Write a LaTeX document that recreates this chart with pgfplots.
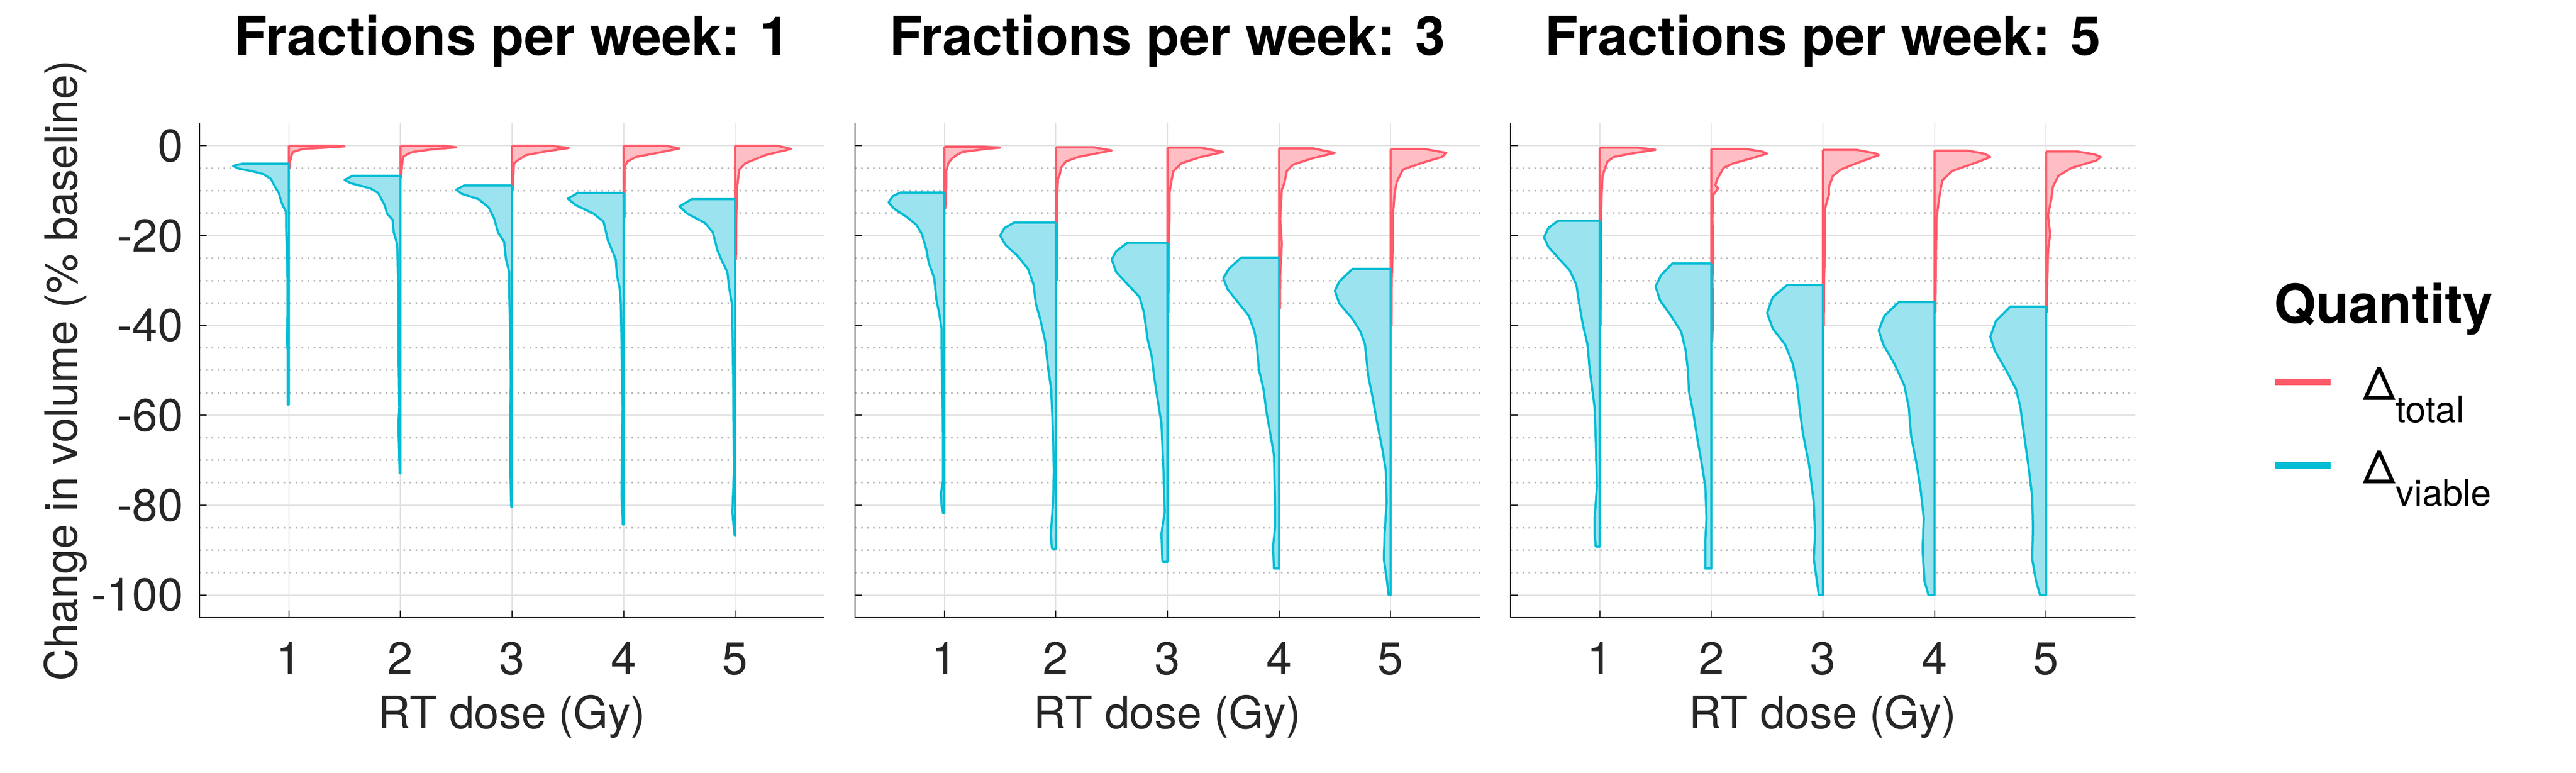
\documentclass[border=0pt]{standalone}
\usepackage{fontspec}
\setmainfont{TeX Gyre Heros}
\usepackage{pgfplots}
\pgfplotsset{compat=1.18}
\definecolor{rline}{HTML}{FF5A6A}
\definecolor{rfill}{HTML}{FFBEC4}
\definecolor{bline}{HTML}{00BCD4}
\definecolor{bfill}{HTML}{9BE3EE}
\definecolor{axgray}{HTML}{262626}
\definecolor{gridc}{HTML}{E2E2E2}
\definecolor{mgridc}{HTML}{B8B8B8}
\newcommand{\tickfont}{\fontsize{8.4}{10}\selectfont}
\newcommand{\labfont}{\fontsize{8.2}{10}\selectfont}
\newcommand{\titfont}{\bfseries\fontsize{9.9}{12}\selectfont}
\pgfplotsset{
  panel/.style={
    scale only axis, width=114.6pt, height=90.6pt,
    xmin=0.2, xmax=5.8, ymin=-105, ymax=5, enlargelimits=false,
    axis lines=left, axis line style={-, draw=axgray, line width=0.2pt},
    xtick={1,2,3,4,5}, xticklabels={1,2,3,4,5},
    ytick={-100,-80,-60,-40,-20,0},
    minor y tick num=3,
    xmajorgrids=true, ymajorgrids=true, yminorgrids=true,
    major grid style={draw=gridc, line width=0.2pt},
    minor grid style={draw=mgridc, line width=0.3pt, dash pattern=on 0.3pt off 0.8pt},
    tick align=inside, major tick length=1.3pt, minor tick length=0pt,
    tick style={draw=axgray, line width=0.2pt},
    xticklabel style={font=\tickfont, text=axgray, anchor=base, inner sep=0pt, yshift=-10.5pt},
    yticklabel style={font=\tickfont, text=axgray, anchor=east, inner sep=0pt, xshift=-2.8pt},
    title style={at={(axis description cs:0.5,1.0717)}, anchor=base, font=\titfont, inner sep=0pt},
    xlabel={RT dose (Gy)},
    xlabel style={at={(axis description cs:0.5,-0.2241)}, anchor=base, inner sep=0pt, font=\labfont, text=axgray},
    clip=false,
  },
  bv/.style={draw=bline, fill=bfill, line width=0.4pt, line join=round, forget plot},
  rv/.style={draw=rline, fill=rfill, line width=0.4pt, line join=round, forget plot},
}
\begin{document}
\begin{tikzpicture}
\useasboundingbox (0,0) rectangle (472.4pt,141.7pt);
% ---------------- Panel 1 ----------------
\begin{axis}[panel, at={(36.6pt,28.5pt)}, anchor=south west,
  title={Fractions per week: 1},
  yticklabels={-100,-80,-60,-40,-20,0},
  ylabel={Change in volume (\% baseline)},
  ylabel style={at={(axis description cs:-0.1963,0.5)}, anchor=base, inner sep=0pt, font=\labfont, text=axgray}]
\addplot[rv] table[x expr={1+\thisrow{w}}, y=y, row sep=\\] {y w\\ 0 0\\ 0 0.41\\ -0.14 0.50\\ -0.5 0.27\\ -0.7 0.125\\ -1.4 0.036\\ -2.1 0.025\\ -3.5 0.011\\ -4.6 0.01\\ -5 0.005\\ -5 0\\ 0 0\\};
\addplot[bv] table[x expr={1-\thisrow{w}}, y=y, row sep=\\] {y w\\ -4.0 0\\ -4.0 0.42\\ -4.5 0.50\\ -5.1 0.45\\ -5.6 0.34\\ -6.3 0.23\\ -7.4 0.16\\ -9.1 0.125\\ -10.5 0.09\\ -12.3 0.07\\ -13.3 0.054\\ -14.7 0.025\\ -17.6 0.025\\ -23.2 0.018\\ -30.2 0.011\\ -37.2 0.011\\ -43.5 0.018\\ -45.6 0.01\\ -51.3 0.01\\ -57.6 0.01\\ -57.6 0\\ -4.0 0\\};
\addplot[rv] table[x expr={2+\thisrow{w}}, y=y, row sep=\\] {y w\\ 0 0\\ 0 0.39\\ -0.35 0.50\\ -0.84 0.27\\ -1.4 0.11\\ -1.76 0.07\\ -2.5 0.025\\ -3.5 0.018\\ -5.6 0.01\\ -7 0.008\\ -7 0\\ 0 0\\};
\addplot[bv] table[x expr={2-\thisrow{w}}, y=y, row sep=\\] {y w\\ -6.7 0\\ -6.7 0.43\\ -7.6 0.50\\ -8.3 0.45\\ -9.5 0.27\\ -10.5 0.2\\ -13.3 0.14\\ -15.1 0.12\\ -16.5 0.07\\ -19.3 0.06\\ -21.8 0.03\\ -25.3 0.025\\ -33.7 0.018\\ -44.2 0.018\\ -58.3 0.01\\ -61.8 0.018\\ -72.9 0.007\\ -72.9 0\\ -6.7 0\\};
\addplot[rv] table[x expr={3+\thisrow{w}}, y=y, row sep=\\] {y w\\ 0 0\\ 0 0.34\\ -0.5 0.51\\ -1.26 0.30\\ -2.1 0.125\\ -3.2 0.054\\ -3.9 0.018\\ -7.0 0.01\\ -10 0.008\\ -10 0\\ 0 0\\};
\addplot[bv] table[x expr={3-\thisrow{w}}, y=y, row sep=\\] {y w\\ -8.85 0\\ -8.85 0.43\\ -9.8 0.50\\ -10.7 0.45\\ -11.9 0.30\\ -13.7 0.21\\ -16.2 0.16\\ -19.3 0.125\\ -21.4 0.07\\ -25.3 0.054\\ -28.1 0.025\\ -31.6 0.025\\ -40.7 0.018\\ -51.3 0.011\\ -69.5 0.018\\ -80.4 0.007\\ -80.4 0\\ -8.85 0\\};
\addplot[rv] table[x expr={4+\thisrow{w}}, y=y, row sep=\\] {y w\\ 0 0\\ 0 0.375\\ -0.6 0.50\\ -1.76 0.27\\ -2.5 0.11\\ -3.5 0.036\\ -4.6 0.01\\ -16 0.008\\ -16 0\\ 0 0\\};
\addplot[bv] table[x expr={4-\thisrow{w}}, y=y, row sep=\\] {y w\\ -10.5 0\\ -10.5 0.41\\ -11.8 0.50\\ -13.2 0.43\\ -15.1 0.27\\ -16.9 0.18\\ -21.1 0.14\\ -25.3 0.07\\ -28.8 0.06\\ -31.6 0.036\\ -35.1 0.025\\ -44.2 0.018\\ -58.3 0.01\\ -77.9 0.018\\ -84.3 0.007\\ -84.3 0\\ -10.5 0\\};
\addplot[rv] table[x expr={5+\thisrow{w}}, y=y, row sep=\\] {y w\\ 0 0\\ 0 0.375\\ -0.7 0.50\\ -2.1 0.27\\ -3.9 0.09\\ -5.3 0.036\\ -9.1 0.018\\ -16.2 0.01\\ -25.3 0.007\\ -25.3 0\\ 0 0\\};
\addplot[bv] table[x expr={5-\thisrow{w}}, y=y, row sep=\\] {y w\\ -11.9 0\\ -11.9 0.39\\ -13.5 0.50\\ -15.1 0.43\\ -17.2 0.27\\ -19.3 0.2\\ -23.2 0.16\\ -25.3 0.125\\ -28.1 0.07\\ -31.6 0.054\\ -35.8 0.025\\ -40.0 0.025\\ -51.3 0.018\\ -72.3 0.011\\ -81.5 0.025\\ -83.6 0.018\\ -86.7 0.005\\ -86.7 0\\ -11.9 0\\};
\end{axis}
% ---------------- Panel 2 ----------------
\begin{axis}[panel, at={(156.8pt,28.5pt)}, anchor=south west,
  title={Fractions per week: 3}, yticklabels={}]
\addplot[rv] table[x expr={1+\thisrow{w}}, y=y, row sep=\\] {y w\\ -0.2 0\\ -0.2 0.34\\ -0.42 0.50\\ -0.7 0.375\\ -1.4 0.16\\ -2.1 0.11\\ -2.8 0.07\\ -3.9 0.036\\ -5.6 0.018\\ -9.1 0.018\\ -13.3 0.01\\ -14 0.008\\ -14 0\\ -0.2 0\\};
\addplot[bv] table[x expr={1-\thisrow{w}}, y=y, row sep=\\] {y w\\ -10.4 0\\ -10.4 0.39\\ -11.2 0.46\\ -12.6 0.50\\ -14.0 0.45\\ -15.8 0.34\\ -17.6 0.25\\ -19.7 0.2\\ -23.2 0.16\\ -26.0 0.14\\ -29.5 0.09\\ -34.4 0.07\\ -37.2 0.046\\ -40.7 0.025\\ -44.2 0.025\\ -54.8 0.018\\ -65.3 0.011\\ -74.4 0.011\\ -77.2 0.029\\ -80.1 0.025\\ -81.8 0.01\\ -81.8 0\\ -10.4 0\\};
\addplot[rv] table[x expr={2+\thisrow{w}}, y=y, row sep=\\] {y w\\ -0.35 0\\ -0.35 0.34\\ -1.05 0.50\\ -2.5 0.2\\ -3.5 0.09\\ -4.9 0.046\\ -6.3 0.036\\ -7.4 0.018\\ -12.6 0.01\\ -21.8 0.01\\ -30 0.008\\ -30 0\\ -0.35 0\\};
\addplot[bv] table[x expr={2-\thisrow{w}}, y=y, row sep=\\] {y w\\ -17.1 0\\ -17.1 0.375\\ -18.3 0.46\\ -20.0 0.50\\ -22.1 0.45\\ -24.6 0.34\\ -27.4 0.25\\ -30.9 0.2\\ -35.1 0.18\\ -38.6 0.14\\ -43.5 0.096\\ -49.2 0.071\\ -54.1 0.043\\ -61.8 0.029\\ -72.3 0.018\\ -79.4 0.025\\ -86.4 0.046\\ -89.5 0.036\\ -89.7 0.03\\ -89.7 0\\ -17.1 0\\};
\addplot[rv] table[x expr={3+\thisrow{w}}, y=y, row sep=\\] {y w\\ -0.42 0\\ -0.42 0.30\\ -1.4 0.50\\ -2.5 0.30\\ -3.9 0.125\\ -5.6 0.054\\ -7.7 0.036\\ -10.5 0.018\\ -16.2 0.018\\ -23.2 0.01\\ -37.2 0.008\\ -37.2 0\\ -0.42 0\\};
\addplot[bv] table[x expr={3-\thisrow{w}}, y=y, row sep=\\] {y w\\ -21.6 0\\ -21.6 0.36\\ -23.5 0.46\\ -25.3 0.50\\ -28.1 0.46\\ -31.3 0.34\\ -33.7 0.25\\ -37.2 0.21\\ -42.8 0.18\\ -47.1 0.14\\ -51.3 0.12\\ -56.2 0.09\\ -61.8 0.054\\ -72.3 0.036\\ -81.5 0.025\\ -86.4 0.054\\ -92.3 0.046\\ -92.6 0.04\\ -92.6 0\\ -21.6 0\\};
\addplot[rv] table[x expr={4+\thisrow{w}}, y=y, row sep=\\] {y w\\ -0.56 0\\ -0.56 0.30\\ -1.6 0.50\\ -2.8 0.30\\ -4.2 0.125\\ -5.6 0.07\\ -8.4 0.046\\ -9.8 0.025\\ -16.2 0.01\\ -21.8 0.025\\ -28.8 0.01\\ -36.2 0.008\\ -36.2 0\\ -0.56 0\\};
\addplot[bv] table[x expr={4-\thisrow{w}}, y=y, row sep=\\] {y w\\ -24.9 0\\ -24.9 0.34\\ -27.4 0.45\\ -29.5 0.50\\ -32.0 0.46\\ -35.1 0.36\\ -37.9 0.27\\ -41.4 0.22\\ -44.2 0.2\\ -49.9 0.18\\ -54.1 0.14\\ -59.7 0.11\\ -65.3 0.07\\ -68.8 0.046\\ -79.4 0.036\\ -85.0 0.036\\ -89.2 0.054\\ -94.1 0.046\\ -94.1 0\\ -24.9 0\\};
\addplot[rv] table[x expr={5+\thisrow{w}}, y=y, row sep=\\] {y w\\ -0.7 0\\ -0.7 0.30\\ -1.6 0.50\\ -2.5 0.46\\ -3.9 0.27\\ -5.3 0.11\\ -8.1 0.054\\ -10.5 0.036\\ -16.2 0.018\\ -23.2 0.018\\ -30.2 0.01\\ -40 0.008\\ -40 0\\ -0.7 0\\};
\addplot[bv] table[x expr={5-\thisrow{w}}, y=y, row sep=\\] {y w\\ -27.4 0\\ -27.4 0.34\\ -30.2 0.46\\ -32.3 0.50\\ -35.1 0.46\\ -38.6 0.34\\ -41.4 0.27\\ -44.2 0.23\\ -51.3 0.2\\ -56.2 0.16\\ -61.8 0.12\\ -68.1 0.07\\ -72.3 0.043\\ -79.4 0.036\\ -86.4 0.054\\ -92.0 0.061\\ -96.2 0.036\\ -100 0.018\\ -100 0\\ -27.4 0\\};
\end{axis}
% ---------------- Panel 3 ----------------
\begin{axis}[panel, at={(277.0pt,28.5pt)}, anchor=south west,
  title={Fractions per week: 5}, yticklabels={},
  legend style={draw=none, fill=none, at={(axis description cs:1.2164,0.508)}, anchor=north west,
    inner sep=0pt, row sep=7.8pt, font=\tickfont, nodes={inner sep=0pt},
    /tikz/every odd column/.append style={column sep=5.4pt}},
  legend cell align=left,
  legend image code/.code={\draw[line width=1.2pt] (0pt,1.1pt) -- (10.2pt,1.1pt);}]
\addlegendimage{draw=rline}
\addlegendentry{Δ\raisebox{-4.1pt}{\fontsize{6.7}{8}\selectfont total}}
\addlegendimage{draw=bline}
\addlegendentry{Δ\raisebox{-4.1pt}{\fontsize{6.7}{8}\selectfont viable}}
\addplot[rv] table[x expr={1+\thisrow{w}}, y=y, row sep=\\] {y w\\ -0.42 0\\ -0.42 0.34\\ -0.9 0.50\\ -1.8 0.27\\ -2.5 0.125\\ -3.5 0.07\\ -5.3 0.043\\ -6.7 0.025\\ -10.5 0.018\\ -16.2 0.01\\ -30.2 0.01\\ -40 0.008\\ -40 0\\ -0.42 0\\};
\addplot[bv] table[x expr={1-\thisrow{w}}, y=y, row sep=\\] {y w\\ -16.7 0\\ -16.7 0.375\\ -18.3 0.46\\ -20.4 0.50\\ -22.5 0.46\\ -25.3 0.36\\ -27.7 0.27\\ -30.9 0.21\\ -35.8 0.18\\ -40.0 0.15\\ -44.2 0.11\\ -49.9 0.09\\ -53.4 0.071\\ -58.3 0.046\\ -65.3 0.036\\ -75.8 0.025\\ -82.9 0.046\\ -86.4 0.046\\ -89.2 0.036\\ -89.2 0\\ -16.7 0\\};
\addplot[rv] table[x expr={2+\thisrow{w}}, y=y, row sep=\\] {y w\\ -0.7 0\\ -0.7 0.30\\ -1.26 0.45\\ -1.76 0.50\\ -2.95 0.34\\ -3.9 0.2\\ -4.9 0.11\\ -7.4 0.054\\ -8.8 0.036\\ -9.5 0.061\\ -10.9 0.018\\ -16.2 0.01\\ -23.2 0.018\\ -30.2 0.01\\ -37.2 0.018\\ -43.5 0.008\\ -43.5 0\\ -0.7 0\\};
\addplot[bv] table[x expr={2-\thisrow{w}}, y=y, row sep=\\] {y w\\ -26.2 0\\ -26.2 0.35\\ -28.8 0.45\\ -31.3 0.50\\ -34.4 0.46\\ -37.9 0.36\\ -41.4 0.27\\ -45.6 0.23\\ -49.9 0.21\\ -54.8 0.2\\ -59.7 0.16\\ -65.3 0.125\\ -70.2 0.09\\ -75.8 0.054\\ -82.9 0.043\\ -87.8 0.054\\ -94.1 0.054\\ -94.1 0\\ -26.2 0\\};
\addplot[rv] table[x expr={3+\thisrow{w}}, y=y, row sep=\\] {y w\\ -0.9 0\\ -0.9 0.30\\ -1.76 0.48\\ -2.1 0.50\\ -3.9 0.30\\ -5.3 0.16\\ -6.7 0.09\\ -9.1 0.054\\ -10.9 0.054\\ -14.0 0.018\\ -23.2 0.018\\ -30.2 0.01\\ -40 0.008\\ -40 0\\ -0.9 0\\};
\addplot[bv] table[x expr={3-\thisrow{w}}, y=y, row sep=\\] {y w\\ -31.0 0\\ -31.0 0.32\\ -33.7 0.45\\ -37.2 0.50\\ -40.7 0.45\\ -44.2 0.34\\ -48.5 0.27\\ -53.4 0.23\\ -58.3 0.21\\ -63.9 0.18\\ -70.9 0.125\\ -79.4 0.082\\ -86.4 0.071\\ -92.0 0.082\\ -100 0.036\\ -100 0\\ -31.0 0\\};
\addplot[rv] table[x expr={4+\thisrow{w}}, y=y, row sep=\\] {y w\\ -1.1 0\\ -1.1 0.30\\ -1.8 0.45\\ -2.5 0.50\\ -3.4 0.41\\ -5.6 0.16\\ -7.7 0.07\\ -9.8 0.054\\ -12.6 0.036\\ -16.2 0.018\\ -30.2 0.01\\ -37 0.008\\ -37 0\\ -1.1 0\\};
\addplot[bv] table[x expr={4-\thisrow{w}}, y=y, row sep=\\] {y w\\ -34.8 0\\ -34.8 0.32\\ -37.9 0.45\\ -41.1 0.50\\ -44.2 0.46\\ -48.5 0.36\\ -53.4 0.27\\ -58.3 0.23\\ -64.6 0.21\\ -70.9 0.16\\ -76.5 0.125\\ -82.9 0.096\\ -89.9 0.107\\ -96.9 0.09\\ -100 0.054\\ -100 0\\ -34.8 0\\};
\addplot[rv] table[x expr={5+\thisrow{w}}, y=y, row sep=\\] {y w\\ -1.26 0\\ -1.26 0.27\\ -1.9 0.43\\ -2.5 0.49\\ -3.3 0.45\\ -4.9 0.23\\ -6.7 0.11\\ -9.1 0.061\\ -11.9 0.046\\ -15.4 0.018\\ -19.7 0.036\\ -23.2 0.018\\ -30.2 0.01\\ -37 0.008\\ -37 0\\ -1.26 0\\};
\addplot[bv] table[x expr={5-\thisrow{w}}, y=y, row sep=\\] {y w\\ -35.8 0\\ -35.8 0.32\\ -39.0 0.45\\ -42.5 0.50\\ -45.6 0.46\\ -49.9 0.36\\ -54.1 0.27\\ -58.3 0.23\\ -63.9 0.2\\ -70.9 0.16\\ -78.0 0.125\\ -85.0 0.118\\ -92.0 0.125\\ -96.9 0.09\\ -100 0.054\\ -100 0\\ -35.8 0\\};
\end{axis}
\node[anchor=base west, inner sep=0pt, font=\titfont] at (416.8pt,82.4pt) {Quantity};
\end{tikzpicture}
\end{document}
